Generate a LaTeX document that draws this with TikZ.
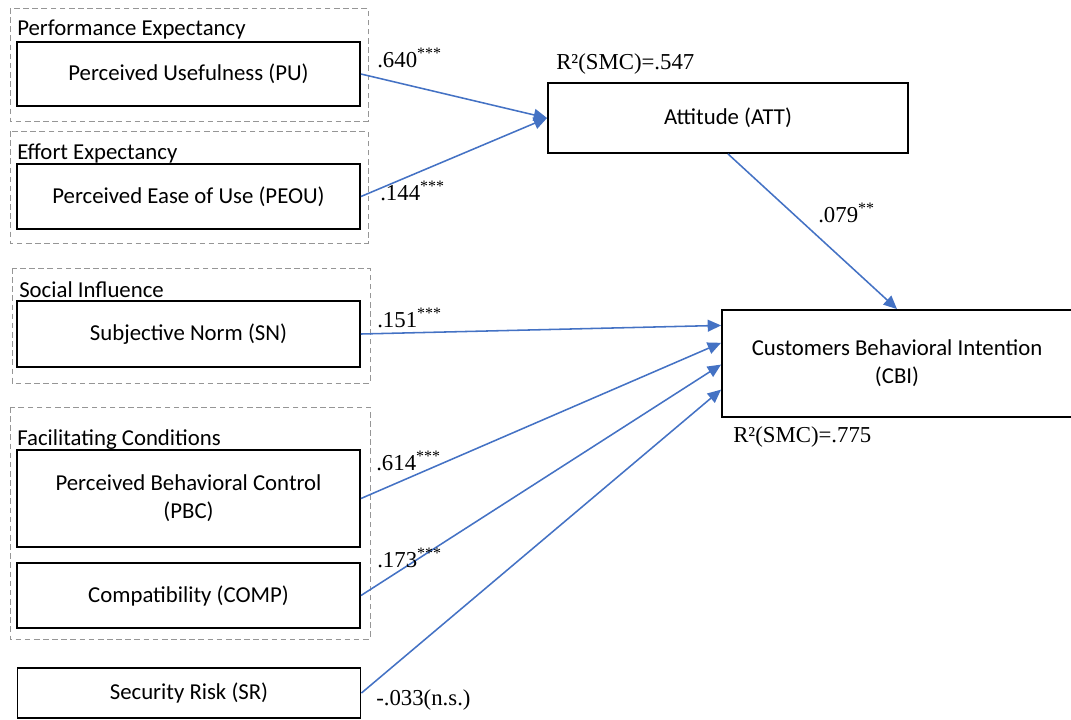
\documentclass[tikz,border=0pt]{standalone}
\usepackage{fontspec}
\setmainfont{Carlito}
\newfontfamily\numfont{Liberation Serif}
\usetikzlibrary{arrows.meta,calc}

\definecolor{pathblue}{RGB}{68,114,196}
\definecolor{groupgray}{RGB}{150,150,150}

\tikzset{
  box/.style={draw=black, line width=1.3pt, minimum width=8.575cm,
    align=center, inner sep=0pt, font=\fontsize{16.2}{20}\selectfont},
  groupbox/.style={draw=groupgray, line width=0.6pt, dash pattern=on 4pt off 2.5pt},
  grouplabel/.style={anchor=base west, inner sep=0pt, font=\fontsize{16.2}{20}\selectfont},
  coef/.style={anchor=base west, inner sep=0pt, font=\numfont\fontsize{16.2}{20}\selectfont},
  path/.style={draw=pathblue, line width=1.1pt, -{Triangle[length=9.5pt,width=8.5pt]}}
}

\begin{document}
\begin{tikzpicture}[x=0.025cm, y=-0.025cm]

\useasboundingbox (0,0) rectangle (1071,719);

% Groupes
\draw[groupbox] (10,8) rectangle (368,121);
\draw[groupbox] (10,131) rectangle (368,243);
\draw[groupbox] (12,268) rectangle (370,383);
\draw[groupbox] (10,407) rectangle (370,639);

\node[grouplabel] (lPE) at (17,35) {Performance Expectancy};
\node[grouplabel] (lEE) at (17,159) {Effort Expectancy};
\node[grouplabel] (lSI) at (19,297) {Social Influence};
\node[grouplabel] (lFC) at (17,445) {Facilitating Conditions};

% Construits
\node[box, minimum height=1.6cm] (PU) at (188.5,74) {Perceived Usefulness (PU)};
\node[box, minimum height=1.625cm] (PEOU) at (188.5,196.5) {Perceived Ease of Use (PEOU)};
\node[box, minimum height=1.65cm] (SN) at (188.5,334) {Subjective Norm (SN)};
\node[box, minimum height=2.425cm] (PBC) at (188.5,498.5) {Perceived Behavioral Control\\(PBC)};
\node[box, minimum height=1.625cm] (COMP) at (188.5,595.5) {Compatibility (COMP)};
\node[box, minimum height=1.25cm] (SR) at (189,693) {Security Risk (SR)};

\node[box, minimum width=9cm, minimum height=1.75cm] (ATT) at (728,118) {Attitude (ATT)};
\node[box, minimum width=8.75cm, minimum height=2.675cm] (CBI) at (897,363.5) {Customers Behavioral Intention\\(CBI)};

% Chemins
\draw[path] (PU.east) -- (ATT.west);
\draw[path] (PEOU.east) -- (ATT.west);
\draw[path] (ATT.south) -- (CBI.north);

\foreach \src/\f in {SN/0.15, PBC/0.31, COMP/0.51, SR/0.74}
{
    \draw[path] (\src.east) -- ($(CBI.north west)!\f!(CBI.south west)$);
}

% Coefficients
\node[coef] (cPU) at (377,67) {.640\textsuperscript{***}};
\node[coef] (cPEOU) at (380,200) {.144\textsuperscript{***}};
\node[coef] (cATT) at (818,222) {.079\textsuperscript{**}};
\node[coef] (cSN) at (377,327) {.151\textsuperscript{***}};
\node[coef] (cPBC) at (376,470) {.614\textsuperscript{***}};
\node[coef] (cCOMP) at (377,567) {.173\textsuperscript{***}};
\node[coef] (cSR) at (376,705) {-.033(n.s.)};

\node[coef] (rATT) at (556,69) {R²(SMC)=.547};
\node[coef] (rCBI) at (733,442) {R²(SMC)=.775};

\end{tikzpicture}
\end{document}
